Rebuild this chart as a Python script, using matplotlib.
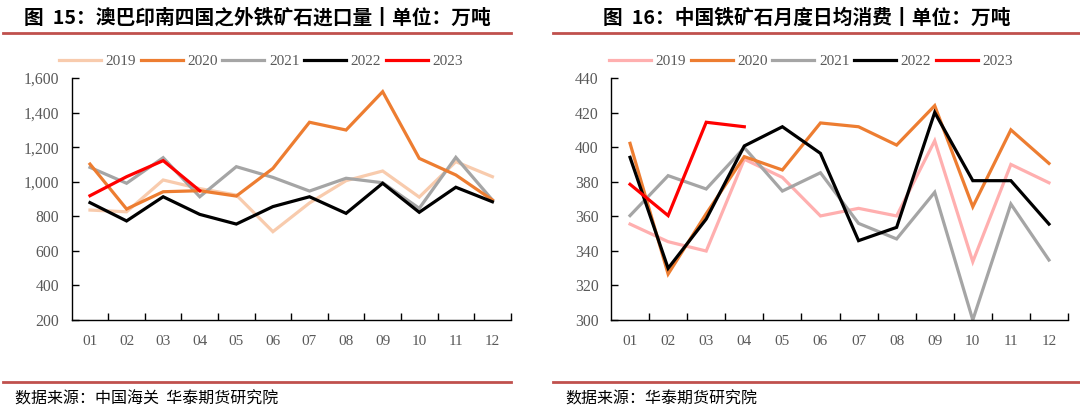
import numpy as np
import matplotlib
matplotlib.use('Agg')
import matplotlib.pyplot as plt
from matplotlib.lines import Line2D

# 数据
months = ['01', '02', '03', '04', '05', '06', '07', '08', '09', '10', '11', '12']
years = ['2019', '2020', '2021', '2022', '2023']

# 图15：澳巴印南四国之外铁矿石进口量（万吨）
imp_2019 = [836, 826, 1010, 960, 923, 711, 877, 1006, 1062, 911, 1116, 1029]
imp_2020 = [1102, 842, 942, 948, 917, 1077, 1344, 1299, 1521, 1135, 1039, 894]
imp_2021 = [1083, 991, 1139, 913, 1087, 1025, 946, 1020, 994, 846, 1141, 894]
imp_2022 = [879, 773, 913, 811, 755, 856, 913, 817, 991, 823, 968, 884]
imp_2023 = [919, 1029, 1122, 948]

# 图16：中国铁矿石月度日均消费（万吨）
con_2019 = [355.5, 345.3, 339.9, 393.0, 382.5, 360.2, 364.6, 360.2, 403.7, 333.7, 390.0, 379.4]
con_2020 = [402.2, 326.6, 361.5, 394.5, 386.8, 414.0, 411.8, 401.2, 424.0, 365.5, 410.0, 390.6]
con_2021 = [360.4, 383.5, 375.8, 399.7, 374.6, 385.2, 355.9, 346.9, 373.9, 300.0, 367.1, 334.7]
con_2022 = [394.1, 329.9, 358.4, 400.7, 411.8, 396.4, 345.9, 353.6, 420.1, 380.6, 380.6, 355.5]
con_2023 = [378.5, 360.4, 414.4, 411.8]

cjk = ['Noto Sans CJK SC', 'DejaVu Sans']
serif = 'Liberation Serif'
tick_color = '#595959'
rule_color = '#C0504D'

fig = plt.figure(figsize=(10.8, 4.12), dpi=100)
W, H = 1080, 412


def fx(px):
    return px / W


def fy(py):
    return 1 - py / H


def draw_panel(rect, series, colors, ylim, yticks, yfmt):
    ax = fig.add_axes(rect)
    x = np.arange(len(months))
    z = {0: 2, 1: 3, 2: 2.5, 3: 4, 4: 5}  # 绘制顺序
    for i in range(len(series)):
        vals = series[i]
        ax.plot(x[:len(vals)], vals, color=colors[i], lw=2.3, zorder=z[i],
                solid_joinstyle='miter', clip_on=False)
    ax.set_xlim(-0.5, 11.5)
    ax.set_ylim(*ylim)
    ax.set_yticks(yticks)
    ax.set_yticklabels([yfmt(v) for v in yticks])
    ax.set_xticks(x)
    ax.set_xticklabels(months)
    ax.set_xticks(np.arange(0.5, 12, 1), minor=True)
    ax.tick_params(axis='x', which='major', length=0, pad=11, labelsize=11,
                   labelcolor=tick_color)
    ax.tick_params(axis='x', which='minor', direction='in', length=5, width=1)
    ax.tick_params(axis='y', direction='in', length=5, width=1, pad=9,
                   labelsize=11.3, labelcolor=tick_color)
    for lab in ax.get_xticklabels() + ax.get_yticklabels():
        lab.set_fontfamily(serif)
    ax.spines['top'].set_visible(False)
    ax.spines['right'].set_visible(False)
    for s in ['left', 'bottom']:
        ax.spines[s].set_linewidth(1)
        ax.spines[s].set_color('black')
    return ax


# 左图
colors_l = ['#F8CBAD', '#ED7D31', '#A5A5A5', '#000000', '#FF0000']
ax1 = draw_panel([fx(71.7), fy(320), fx(439), (320 - 78) / H],
                 [imp_2019, imp_2020, imp_2021, imp_2022, imp_2023], colors_l,
                 (200, 1600), np.arange(200, 1601, 200), lambda v: f'{v:,}')

# 右图
colors_r = ['#FFAFAF', '#ED7D31', '#A5A5A5', '#000000', '#FF0000']
ax2 = draw_panel([fx(611), fy(320), fx(457), (320 - 78) / H],
                 [con_2019, con_2020, con_2021, con_2022, con_2023], colors_r,
                 (300, 440), np.arange(300, 441, 20), lambda v: f'{v}')

# 图例
for colors, cx in [(colors_l, 261), (colors_r, 811)]:
    handles = [Line2D([0], [0], color=c, lw=2.3) for c in colors]
    fig.legend(handles, years, loc='center', bbox_to_anchor=(fx(cx), fy(61)),
               ncol=5, frameon=False, handlelength=2.75, handletextpad=0.3,
               columnspacing=0.3, prop={'family': serif, 'size': 11},
               labelcolor=tick_color)

# 标题
fig.text(fx(257), fy(18), '图  15：澳巴印南四国之外铁矿石进口量丨单位：万吨',
         ha='center', va='center', fontsize=14.2, fontweight='bold', family=cjk)
fig.text(fx(807), fy(18), '图  16：中国铁矿石月度日均消费丨单位：万吨',
         ha='center', va='center', fontsize=14.2, fontweight='bold', family=cjk)

# 分隔线
for x0, x1 in [(3, 511), (553, 1080)]:
    for yy in [32.5, 381.7]:
        fig.add_artist(Line2D([fx(x0), fx(x1)], [fy(yy), fy(yy)],
                              color=rule_color, lw=2, transform=fig.transFigure))

# 数据来源
fig.text(fx(15), fy(399), '数据来源：中国海关  华泰期货研究院', ha='left', va='center',
         fontsize=11.5, family=cjk)
fig.text(fx(565), fy(399), '数据来源：华泰期货研究院', ha='left', va='center',
         fontsize=11.5, family=cjk)

fig.savefig('out.png', dpi=100)
